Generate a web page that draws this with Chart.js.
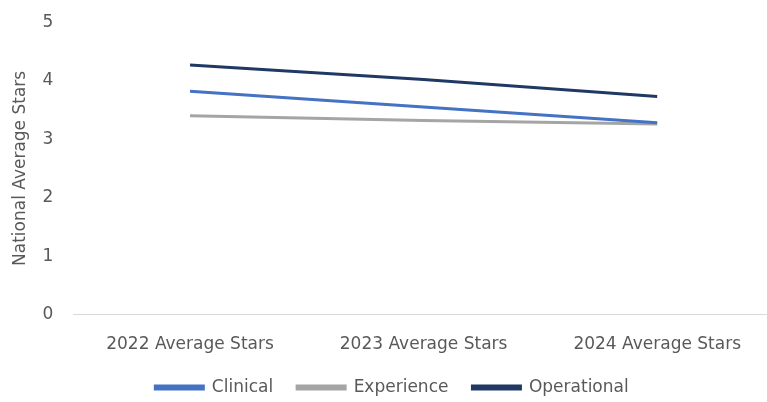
<!DOCTYPE html>
<html>
<head>
<meta charset="utf-8">
<script src="https://cdn.jsdelivr.net/npm/chart.js@4"></script>
<style>
  html, body { margin: 0; padding: 0; background: #fff; }
  #wrap { width: 767px; height: 402px; overflow: hidden; }
</style>
</head>
<body>
<div id="wrap"><canvas id="chart" width="774" height="402"></canvas></div>
<script>
const categories = ['2022 Average Stars', '2023 Average Stars', '2024 Average Stars'];
const clinical = [3.82, 3.55, 3.28];
const experience = [3.40, 3.32, 3.26];
const operational = [4.27, 4.02, 3.73];
const yTicks = [0, 1, 2, 3, 4, 5];

const textColor = '#595959';
const font = { family: 'DejaVu Sans', size: 17 };

// legend: keep wide gaps between items but a shorter box
const legendTrim = {
  id: 'legendTrim',
  beforeInit(chart) {
    const fit = chart.legend.fit;
    chart.legend.fit = function () {
      fit.call(this);
      this.height -= 4;
    };
  }
};

const ctx = document.getElementById('chart').getContext('2d');
const chart = new Chart(ctx, {
  type: 'line',
  data: {
    labels: categories,
    datasets: [
      { label: 'Clinical', data: clinical, borderColor: '#4472C4', backgroundColor: '#4472C4' },
      { label: 'Experience', data: experience, borderColor: '#A5A5A5', backgroundColor: '#A5A5A5' },
      { label: 'Operational', data: operational, borderColor: '#203864', backgroundColor: '#203864' }
    ].map(ds => Object.assign(ds, { borderWidth: 3, pointRadius: 0, tension: 0, fill: false }))
  },
  options: {
    responsive: false,
    animation: false,
    layout: { padding: { top: 0, right: 0, left: 10, bottom: 0 } },
    scales: {
      x: {
        offset: true,
        grid: { display: false },
        border: { display: true, color: '#d9d9d9', width: 1 },
        ticks: { color: textColor, font: font, padding: 12, maxRotation: 0 },
        afterFit: scale => { scale.height -= 12; }
      },
      y: {
        min: 0,
        max: 5,
        afterBuildTicks: axis => { axis.ticks = yTicks.map(v => ({ value: v })); },
        grid: { display: false },
        border: { display: false },
        ticks: { color: textColor, font: font, padding: 12 },
        title: { display: true, text: 'National Average Stars', color: textColor, font: font, padding: 0 }
      }
    },
    plugins: {
      legend: {
        position: 'bottom',
        labels: { color: textColor, font: font, boxWidth: 48, boxHeight: 3, padding: 24 }
      },
      tooltip: { enabled: false }
    }
  },
  plugins: [legendTrim]
});
</script>
</body>
</html>
